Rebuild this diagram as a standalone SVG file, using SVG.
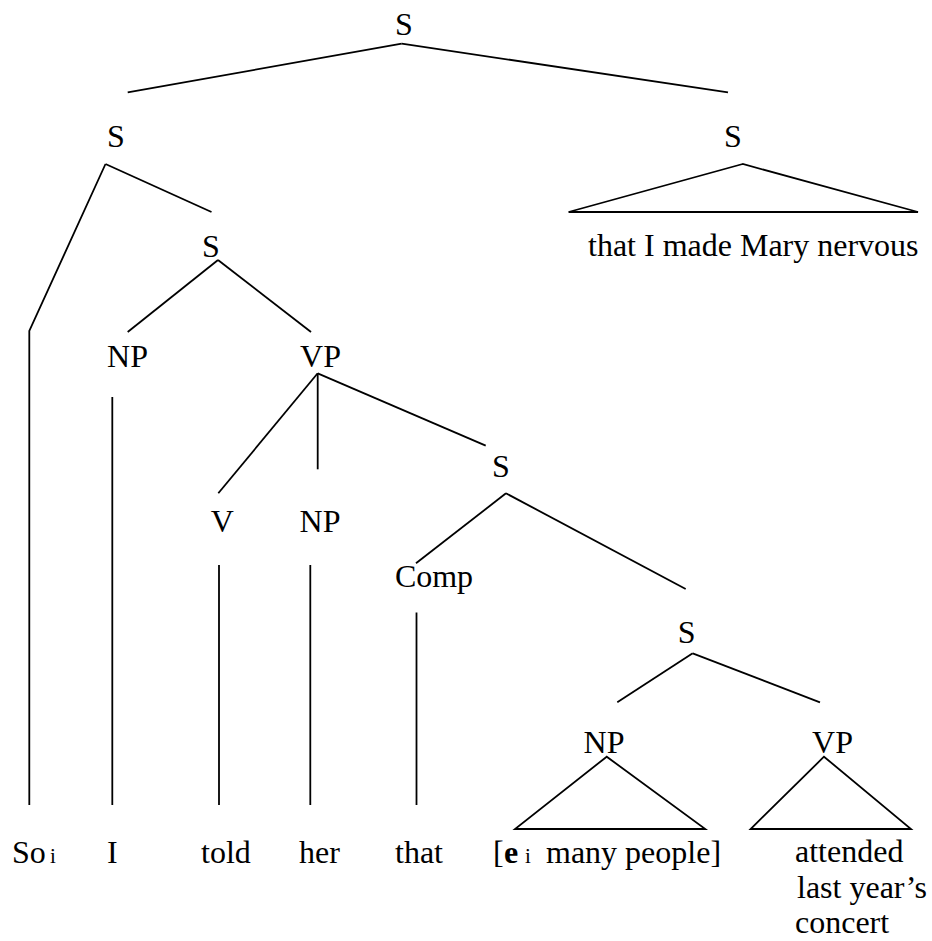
<svg xmlns="http://www.w3.org/2000/svg" width="932" height="941" viewBox="0 0 932 941">
  <style>
    text { font-family: "Liberation Serif", "Times New Roman", serif; font-size: 32px; fill: #000; }
    .lbl { text-anchor: middle; }
    .idx { font-size: 21px; }
    .b { font-weight: bold; }
    .edge { stroke: #000; stroke-width: 1.8; fill: none; stroke-linecap: butt; }
  </style>
  <rect width="932" height="941" fill="#fff"/>

  <!-- branches of the tree -->
  <g id="connectors" class="edges">
    <line class="edge" x1="401.7" y1="43.7" x2="127.7" y2="92.3"/>
    <line class="edge" x1="401.7" y1="43.7" x2="728" y2="92.3"/>
    <polyline class="edge" points="105.5,164 29.3,331 29.3,805"/>
    <line class="edge" x1="105.5" y1="164" x2="211.5" y2="212"/>
    <polygon class="edge" points="742.7,164 568.6,212 918,212"/>
    <line class="edge" x1="218" y1="260" x2="127.7" y2="332"/>
    <line class="edge" x1="218" y1="260" x2="311" y2="332"/>
    <line class="edge" x1="112.3" y1="397" x2="112.3" y2="805"/>
    <line class="edge" x1="317.7" y1="373.3" x2="218.3" y2="493.3"/>
    <line class="edge" x1="317.7" y1="373.3" x2="317.7" y2="469.3"/>
    <line class="edge" x1="317.7" y1="373.3" x2="485.7" y2="445.7"/>
    <line class="edge" x1="219" y1="565" x2="219" y2="805"/>
    <line class="edge" x1="310.3" y1="565" x2="310.3" y2="805"/>
    <line class="edge" x1="506" y1="493.3" x2="416" y2="563.3"/>
    <line class="edge" x1="506" y1="493.3" x2="685.7" y2="589"/>
    <line class="edge" x1="416.5" y1="612.5" x2="416.5" y2="805"/>
    <line class="edge" x1="692.7" y1="653.3" x2="617.3" y2="702.3"/>
    <line class="edge" x1="692.7" y1="653.3" x2="820" y2="702.3"/>
    <polygon class="edge" points="606.7,756.7 515,829 705.3,829"/>
    <polygon class="edge" points="824,756.7 750.6,829 911,829"/>
  </g>

  <!-- category labels -->
  <g id="s-root"><text class="lbl" x="404" y="35">S</text></g>
  <g id="s-left"><text class="lbl" x="116" y="147">S</text></g>
  <g id="s-right"><text class="lbl" x="733" y="147">S</text></g>
  <g id="s-main"><text class="lbl" x="211" y="257">S</text></g>
  <g id="np-subject"><text class="lbl" x="127.5" y="367">NP</text></g>
  <g id="vp-main"><text class="lbl" x="320.5" y="367">VP</text></g>
  <g id="s-comp"><text class="lbl" x="501" y="477">S</text></g>
  <g id="v"><text class="lbl" x="222.3" y="532">V</text></g>
  <g id="np-object"><text class="lbl" x="320" y="532">NP</text></g>
  <g id="comp"><text class="lbl" x="434" y="587">Comp</text></g>
  <g id="s-embedded"><text class="lbl" x="686.7" y="643">S</text></g>
  <g id="np-embedded"><text class="lbl" x="604" y="753">NP</text></g>
  <g id="vp-embedded"><text class="lbl" x="832.5" y="753">VP</text></g>

  <!-- terminal words -->
  <g id="leaf-right"><text x="588" y="256">that I made Mary nervous</text></g>
  <g id="leaf-so"><text x="12" y="863">So</text><text class="idx" x="50" y="863">i</text></g>
  <g id="leaf-i"><text x="107" y="863">I</text></g>
  <g id="leaf-told"><text x="201" y="863">told</text></g>
  <g id="leaf-her"><text x="299" y="863">her</text></g>
  <g id="leaf-that"><text x="395" y="863">that</text></g>
  <g id="leaf-np">
    <text x="493" y="863">[</text>
    <text class="b" x="504" y="863">e</text>
    <text class="idx" x="525" y="863">i</text>
    <text x="546" y="863">many people]</text>
  </g>
  <g id="leaf-vp">
    <text x="795" y="862">attended</text>
    <text x="797" y="898">last year’s</text>
    <text x="795" y="933">concert</text>
  </g>
</svg>
